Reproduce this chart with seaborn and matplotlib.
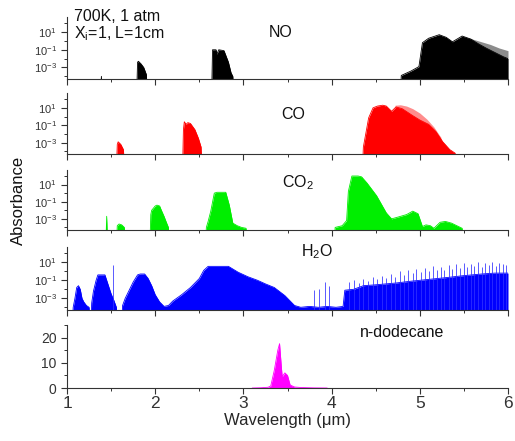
import numpy as np
import pandas as pd
import matplotlib
matplotlib.use("Agg")
import matplotlib.pyplot as plt
import seaborn as sns
from matplotlib.ticker import FixedLocator, MultipleLocator, NullFormatter

# spectra envelopes (log10 absorbance, -6 = nothing)

no_wl = [1.38, 1.39, 1.40,
         1.79, 1.80, 1.81, 1.84, 1.87, 1.90, 1.91,
         2.64, 2.65, 2.69, 2.70, 2.72, 2.78, 2.83, 2.86, 2.88, 2.89,
         4.78, 4.79, 4.90, 4.99, 5.03, 5.10, 5.22, 5.30, 5.37, 5.48,
         5.58, 5.66, 5.75, 5.85, 5.95, 6.00]
no_log = [-6, -4.0, -6,
          -6, -2.4, -2.3, -2.6, -3.0, -3.8, -6,
          -6, -1.0, -1.0, -1.5, -1.0, -1.1, -2.4, -3.6, -4.0, -6,
          -6, -3.9, -3.4, -2.9, -0.2, 0.3, 0.7, 0.4, -0.1, 0.55,
          0.2, -0.3, -0.8, -1.3, -1.8, -2.0]
# fainter line tips above the dense part
no_tip_wl = [5.50, 5.60, 5.70, 5.80, 5.90, 6.00]
no_tip_log = [0.5, 0.2, -0.1, -0.4, -0.8, -1.1]

co_wl = [1.56, 1.57, 1.58, 1.61, 1.64, 1.65,
         2.31, 2.32, 2.33, 2.35, 2.37, 2.40, 2.45, 2.49, 2.52, 2.53,
         4.35, 4.36, 4.42, 4.47, 4.52, 4.58, 4.62, 4.68, 4.73, 4.80,
         4.86, 4.92, 5.00, 5.10, 5.18, 5.26, 5.34, 5.40, 5.41]
co_log = [-6, -3.2, -2.9, -3.2, -3.8, -6,
          -6, -1.5, -0.6, -0.9, -0.7, -0.8, -1.5, -2.5, -3.5, -6,
          -6, -3.5, -0.15, 1.0, 1.2, 1.3, 1.2, 0.6, 1.1, 0.9,
          0.5, 0.1, -0.4, -0.9, -1.7, -2.9, -3.8, -4.2, -6]
co_tip_wl = [4.72, 4.78, 4.85, 4.92, 5.00, 5.08, 5.16, 5.24]
co_tip_log = [1.3, 1.35, 1.2, 0.9, 0.4, -0.3, -1.2, -2.4]

co2_wl = [1.44, 1.45, 1.46,
          1.56, 1.57, 1.59, 1.62, 1.65, 1.66,
          1.94, 1.95, 1.96, 2.00, 2.02, 2.05, 2.07, 2.10, 2.13, 2.15, 2.16,
          2.57, 2.58, 2.60, 2.63, 2.67, 2.70, 2.80, 2.84, 2.88, 2.93, 2.98, 3.03, 3.04,
          4.03, 4.04, 4.12, 4.17, 4.19, 4.23, 4.30, 4.34, 4.40, 4.51, 4.62,
          4.68, 4.75, 4.85, 4.92, 4.98, 5.03, 5.07, 5.12, 5.16, 5.19,
          5.23, 5.29, 5.36, 5.44, 5.48, 5.49]
co2_log = [-6, -2.7, -6,
           -6, -3.8, -3.6, -3.7, -4.0, -6,
           -6, -2.5, -2.0, -1.5, -1.4, -1.5, -2.0, -2.7, -3.5, -4.0, -6,
           -6, -4.0, -3.3, -2.1, 0.0, 0.1, 0.1, -1.4, -3.5, -3.8, -4.0, -4.1, -6,
           -6, -4.0, -3.8, -3.2, 0.2, 2.0, 2.0, 1.9, 1.2, -0.3, -2.3,
           -3.0, -2.8, -2.5, -2.1, -2.4, -3.9, -3.7, -3.8, -4.1, -3.8,
           -3.4, -3.3, -3.5, -3.9, -4.1, -6]

h2o_wl = [1.06, 1.07, 1.09, 1.11, 1.13, 1.15, 1.17, 1.19, 1.22, 1.25, 1.26,
          1.27, 1.28, 1.30, 1.33, 1.35, 1.43, 1.46, 1.50, 1.53, 1.56, 1.57,
          1.62, 1.63, 1.66, 1.70, 1.75, 1.80, 1.83, 1.88, 1.92, 1.96, 2.00,
          2.05, 2.10, 2.15, 2.20, 2.30, 2.40, 2.50, 2.55, 2.60, 2.83, 2.94,
          3.05, 3.16, 3.25, 3.35, 3.47, 3.58, 3.65, 3.75, 3.85, 3.95, 4.05,
          4.13, 4.15, 4.25, 4.36, 4.50, 4.73, 4.90, 5.10, 5.30, 5.48, 5.70,
          5.85, 6.00]
h2o_log = [-6, -4.0, -3.0, -1.8, -1.6, -2.0, -3.0, -3.4, -3.8, -4.0, -6,
           -6, -3.5, -2.2, -1.0, -0.4, -0.4, -1.3, -2.5, -3.2, -4.0, -6,
           -6, -3.8, -3.0, -2.2, -1.2, -0.4, -0.3, -0.3, -0.8, -1.6, -2.6,
           -3.4, -3.9, -3.8, -3.3, -2.6, -1.8, -0.8, 0.1, 0.55, 0.55, -0.1,
           -0.6, -1.0, -1.4, -1.8, -2.7, -3.8, -4.0, -3.9, -4.0, -3.9, -4.0,
           -3.9, -2.1, -2.0, -1.6, -1.5, -1.3, -1.1, -0.9, -0.7, -0.5, -0.3,
           -0.2, -0.2]

# single lines sticking out of the water spectrum
h2o_spike_wl = [1.52, 3.80, 3.86, 3.92, 3.97,
                4.20, 4.25, 4.31, 4.36, 4.41, 4.47, 4.52, 4.57, 4.62, 4.67,
                4.72, 4.77, 4.82, 4.87, 4.92, 4.96, 5.01, 5.06, 5.10, 5.15,
                5.19, 5.24, 5.28, 5.33, 5.37, 5.41, 5.46, 5.50, 5.54, 5.58,
                5.62, 5.66, 5.70, 5.74, 5.78, 5.82, 5.86, 5.90, 5.94, 5.98]
h2o_spike_log = [0.7, -2.1, -2.0, -1.2, -1.6,
                 -1.2, -1.0, -1.3, -0.8, -1.1, -0.6, -0.9, -0.5, -0.7, -0.3,
                 -0.6, 0.0, -0.4, 0.1, -0.2, 0.3, -0.1, 0.4, 0.0, 0.6,
                 0.2, 0.5, 0.1, 0.7, 0.3, 0.8, 0.4, 0.9, 0.5, 0.8,
                 0.6, 1.0, 0.5, 0.9, 0.7, 1.0, 0.6, 0.9, 0.8, 0.7]

dod_wl = [3.10, 3.20, 3.28, 3.31, 3.35, 3.39, 3.41, 3.43, 3.44, 3.47,
          3.50, 3.53, 3.58, 3.65, 3.80, 3.95]
dod_abs = [0, 0.1, 0.3, 0.8, 7, 15, 17.6, 8.5, 4.5, 6,
           5, 1.2, 0.4, 0.2, 0.05, 0]

log_ticks = [1e-3, 1e-1, 1e1]
log_tick_labels = ["10$^{-3}$", "10$^{-1}$", "10$^{1}$"]
x_ticks = [1, 2, 3, 4, 5, 6]

# style

sns.set_style("ticks")
plt.rcParams["font.family"] = ["Liberation Sans", "DejaVu Sans"]
plt.rcParams["mathtext.fontset"] = "custom"
plt.rcParams["mathtext.rm"] = "Liberation Sans"
plt.rcParams["mathtext.it"] = "Liberation Sans:italic"
plt.rcParams["axes.edgecolor"] = "#333333"
plt.rcParams["xtick.color"] = "#333333"
plt.rcParams["ytick.color"] = "#333333"
plt.rcParams["text.color"] = "#111111"

W, H = 515, 441
fig = plt.figure(figsize=(W / 100, H / 100), dpi=100)


def add_panel(top, bottom):
    ax = fig.add_axes([67 / W, 1 - bottom / H, 441 / W, (bottom - top) / H])
    sns.despine(ax=ax)
    ax.set_xlim(1, 6)
    ax.xaxis.set_major_locator(FixedLocator(x_ticks))
    ax.xaxis.set_minor_locator(MultipleLocator(0.5))
    ax.tick_params(which="major", direction="out", length=4, width=0.8)
    ax.tick_params(which="minor", direction="out", length=2.5, width=0.7)
    return ax


def log_panel(ax, wl, logs, color):
    df = pd.DataFrame({"wl": wl, "A": np.power(10.0, logs)})
    ax.fill_between(df["wl"], 1e-6, df["A"], color=color, lw=0)
    sns.lineplot(data=df, x="wl", y="A", ax=ax, color=color, lw=0.6,
                 estimator=None, sort=False)
    ax.set_yscale("log")
    ax.set_ylim(10 ** -4.3, 10 ** 2.7)
    ax.yaxis.set_major_locator(FixedLocator(log_ticks))
    ax.set_yticklabels(log_tick_labels, fontsize=8)
    ax.yaxis.set_minor_locator(FixedLocator([1e-4, 1e-2, 1e0, 1e2]))
    ax.yaxis.set_minor_formatter(NullFormatter())
    ax.set_xlabel("")
    ax.set_ylabel("")
    ax.set_xticklabels([])


def tips(ax, wl, logs, color):
    ax.fill_between(wl, 1e-6, np.power(10.0, logs), color=color, lw=0,
                    alpha=0.45)


ax_no = add_panel(17, 79)
log_panel(ax_no, no_wl, no_log, "black")
tips(ax_no, no_tip_wl, no_tip_log, "black")
ax_no.text(3.42, 10 ** 1.0, "NO", fontsize=11.5, ha="center", va="center")
ax_no.text(1.08, 10 ** 2.72, "700K, 1 atm", fontsize=11.5, ha="left", va="center")
ax_no.text(1.08, 10 ** 0.78, "X$_\\mathrm{i}$=1, L=1cm", fontsize=11.5,
           ha="left", va="center")

ax_co = add_panel(93, 154)
log_panel(ax_co, co_wl, co_log, "#ff0000")
tips(ax_co, co_tip_wl, co_tip_log, "#ff0000")
ax_co.text(3.57, 10 ** 0.2, "CO", fontsize=11.5, ha="center", va="center")

ax_co2 = add_panel(170, 230)
log_panel(ax_co2, co2_wl, co2_log, "#00ee00")
ax_co2.text(3.62, 10 ** 1.2, "CO$_2$", fontsize=11.5, ha="center", va="center")

ax_h2o = add_panel(247, 310)
log_panel(ax_h2o, h2o_wl, h2o_log, "#0000ff")
ax_h2o.vlines(h2o_spike_wl, 1e-6, np.power(10.0, h2o_spike_log),
              color="#3030ff", lw=0.7, alpha=0.8)
ax_h2o.text(3.83, 10 ** 2.2, "H$_2$O", fontsize=11.5, ha="center", va="center")

ax_dod = add_panel(325, 388)
dod_df = pd.DataFrame({"wl": dod_wl, "A": dod_abs})
ax_dod.fill_between(dod_df["wl"], 0, dod_df["A"], color="#ff00ff", lw=0)
sns.lineplot(data=dod_df, x="wl", y="A", ax=ax_dod, color="#ff00ff", lw=0.6,
             estimator=None, sort=False)
ax_dod.set_ylim(0, 25)
ax_dod.yaxis.set_major_locator(FixedLocator([0, 10, 20]))
ax_dod.yaxis.set_minor_locator(MultipleLocator(5))
ax_dod.tick_params(axis="y", labelsize=10)
ax_dod.tick_params(axis="x", labelsize=12.5, pad=2)
ax_dod.set_xticklabels([str(t) for t in x_ticks])
ax_dod.set_xlabel("Wavelength (μm)", fontsize=12, labelpad=1)
ax_dod.set_ylabel("")
ax_dod.text(4.80, 22, "n-dodecane", fontsize=11.5, ha="center", va="center")

fig.text(18 / W, 1 - 200 / H, "Absorbance", rotation=90, fontsize=12,
         ha="center", va="center")

fig.savefig("out.png", dpi=100)
